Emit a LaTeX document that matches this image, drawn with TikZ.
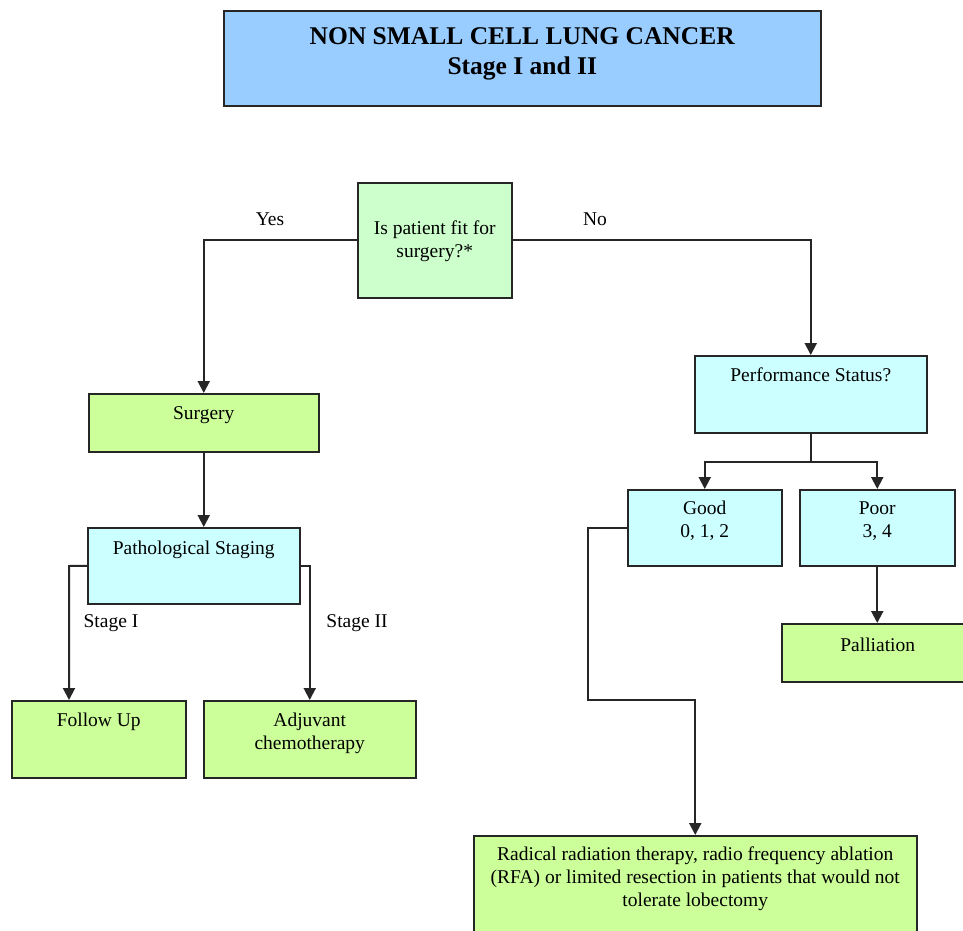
\documentclass[tikz,border=0pt]{standalone}
\usepackage{fontspec}
\setmainfont{Liberation Serif}
\usetikzlibrary{arrows.meta}
\definecolor{titleblue}{HTML}{99CCFF}
\definecolor{askgreen}{HTML}{CCFFCC}
\definecolor{actgreen}{HTML}{CCFF99}
\definecolor{statcyan}{HTML}{CCFFFF}
\newcommand{\boxtext}[4]{\begin{minipage}[c][#2pt][t]{#1pt}\centering\vspace*{#3pt}\strut #4\end{minipage}}
\tikzset{
  flowbox/.style={draw=black!85, line width=1.5pt, inner sep=0pt, anchor=north west},
  conn/.style={draw=black!85, line width=2pt, -{Triangle[length=12pt,width=12pt]}},
  plain/.style={draw=black!85, line width=2pt}
}

\begin{document}
\begin{tikzpicture}[x=1pt,y=-1pt,font=\fontsize{19.5}{23}\selectfont]
					\clip (0,0) rectangle (963,930);
					% boxes
					\node[flowbox,fill=titleblue,font=\bfseries\fontsize{25.5}{30}\selectfont] (title) at (223,10) {\boxtext{597}{95}{13}{NON SMALL CELL LUNG CANCER\\ Stage I and II}};
					\node[flowbox,fill=askgreen] (fit) at (357,182) {\boxtext{154}{115}{36}{Is patient fit for\\ surgery?*}};
					\node[flowbox,fill=actgreen] (surgery) at (88,393) {\boxtext{230}{58}{10}{Surgery}};
					\node[flowbox,fill=statcyan] (path) at (87,527) {\boxtext{212}{76}{11}{Pathological Staging}};
					\node[flowbox,fill=actgreen] (follow) at (11,700) {\boxtext{174}{77}{10}{Follow Up}};
					\node[flowbox,fill=actgreen] (adjuvant) at (203,700) {\boxtext{212}{77}{10}{Adjuvant\\ chemotherapy}};
					\node[flowbox,fill=statcyan] (perf) at (694,355) {\boxtext{232}{77}{10}{Performance Status?}};
					\node[flowbox,fill=statcyan] (good) at (627,489) {\boxtext{154}{76}{9}{Good\\ 0, 1, 2}};
					\node[flowbox,fill=statcyan] (poor) at (799,489) {\boxtext{155}{76}{9}{Poor\\ 3, 4}};
					\node[flowbox,fill=actgreen] (palliation) at (781,623) {\boxtext{192}{58}{12}{Palliation}};
					\node[flowbox,fill=actgreen] (radical) at (473,835) {\boxtext{443}{110}{9}{Radical radiation therapy, radio frequency ablation\\ (RFA) or limited resection in patients that would not\\ tolerate lobectomy}};
					% bends
					\coordinate (stagebend) at (69,566);
					\coordinate (split) at ([yshift=-28pt]perf.south);
					\coordinate (goodbend) at (588,700);
					% connectors
					\draw[conn] (fit.west) -| (surgery.north);
					\draw[conn] (fit.east) -| (perf.north);
					\draw[conn] (surgery.south) -- (surgery.south |- path.north);
					\draw[conn] (path.west) -- (stagebend) -- (stagebend |- follow.north);
					\draw[conn] (path.east) -| (adjuvant.north);
					\draw[plain] (perf.south) -- (split);
					\draw[conn] (split) -| (good.north);
					\draw[conn] (split) -| (poor.north);
					\draw[conn] (poor.south) -- (poor.south |- palliation.north);
					\draw[conn] (good.west) -| (goodbend) -| (radical.north);
					% labels
					\node (yes) at (270,219) {Yes};
					\node (no) at (595,219) {No};
					\node (stageone) at (111,623) {Stage I};
					\node (stagetwo) at (357,623) {Stage II};
				\end{tikzpicture}
\end{document}
